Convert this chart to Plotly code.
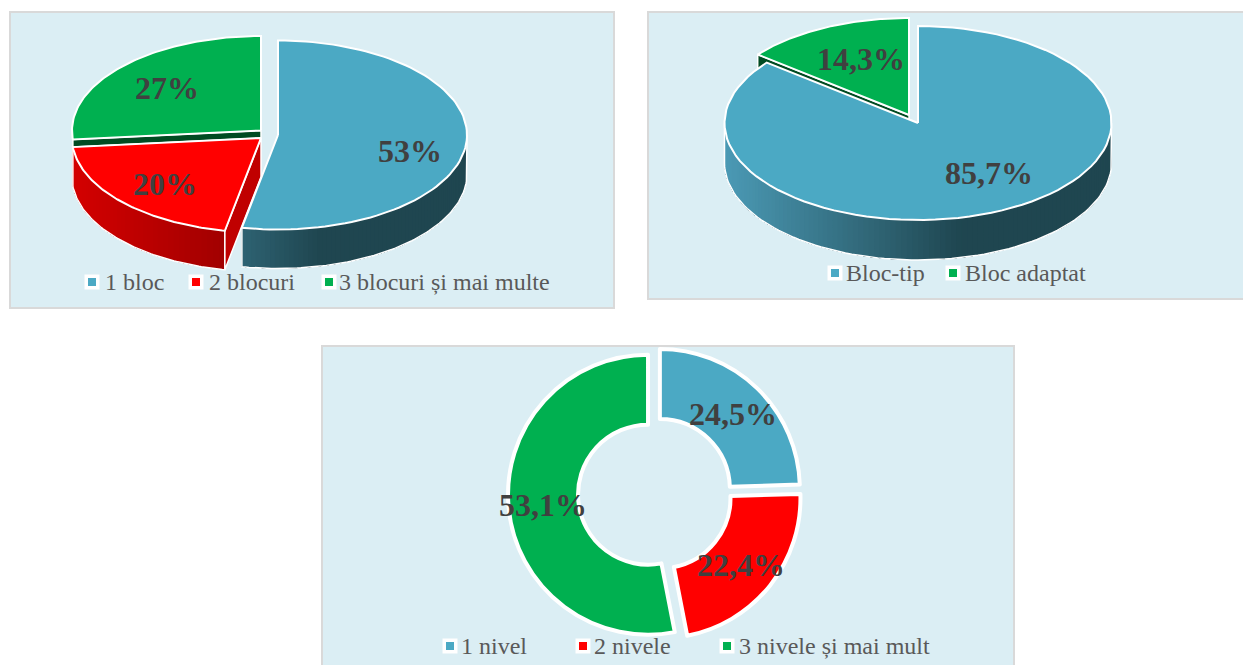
import math
import plotly.graph_objects as go

blocks_categories = ["1 bloc", "2 blocuri", "3 blocuri și mai multe"]
blocks_values = [26, 10, 13]
blocks_labels = ["53%", "20%", "27%"]

type_categories = ["Bloc-tip", "Bloc adaptat"]
type_values = [42, 7]
type_labels = ["85,7%", "14,3%"]

levels_categories = ["1 nivel", "2 nivele", "3 nivele și mai mult"]
levels_values = [12, 11, 26]
levels_labels = ["24,5%", "22,4%", "53,1%"]

# ---- styles ----
BLUE, RED, GREEN = "#4BA9C4", "#FF0000", "#00B050"
DKGREEN = "#004B22"
PANEL, BORDER = "#DBEEF4", "#D9D9D9"
W, H = 1243, 665
SERIF = "Liberation Serif"


def lerp(c1, c2, t):
    t = max(0, min(1, t))
    return "rgb(%d,%d,%d)" % tuple(round(a + (b - a) * t) for a, b in zip(c1, c2))


def blue_shade(x, left, width):
    return lerp((75, 154, 181), (31, 70, 80), (x - left) / (0.61 * width))


def red_shade(x, left, width):
    return lerp((212, 0, 0), (160, 0, 0), (x - left) / width)


def angles(values):
    total = sum(values)
    out, run = [], 0
    for v in values:
        out.append((run / total * 360, (run + v) / total * 360))
        run += v
    return out


def pt(c, rx, ry, a):
    r = math.radians(a)
    return c[0] + rx * math.sin(r), c[1] - ry * math.cos(r)


def arc(c, rx, ry, a0, a1, n=90):
    return [pt(c, rx, ry, a0 + (a1 - a0) * i / n) for i in range(n + 1)]


fig = go.Figure()


def poly(points, fill, line="white", lw=2):
    xs, ys = zip(*points)
    fig.add_trace(go.Scatter(x=list(xs) + [xs[0]], y=list(ys) + [ys[0]], mode="lines",
                             fill="toself", fillcolor=fill,
                             line=dict(color=line, width=lw), hoverinfo="skip",
                             showlegend=False))


def top(c, rx, ry, span, fill):
    poly([c] + arc(c, rx, ry, *span), fill)


def side(c, rx, ry, depth, a0, a1, shade, start, n=70):
    # painter's gradient: every band runs from its start angle to the end of the
    # face, so later bands overlap earlier ones and no seams show
    for i in range(n):
        s = start + (a1 - start) * i / n
        if s >= a1:
            break
        seg = arc(c, rx, ry, s, a1, 40)
        col = shade(pt(c, rx, ry, s + (a1 - start) / n / 2)[0])
        poly(seg + [(x, y + depth) for x, y in reversed(seg)], col, col, 0)
    low = arc(c, rx, ry, a0, a1)
    outline = [low[0]] + [(x, y + depth) for x, y in low] + [low[-1]]
    fig.add_trace(go.Scatter(x=[p[0] for p in outline], y=[p[1] for p in outline], mode="lines",
                             line=dict(color="white", width=1.5), hoverinfo="skip",
                             showlegend=False))


def cut_face(c, radii, a, depth, fill, lw=1.5):
    p = pt(c, radii[0], radii[1], a)
    poly([c, p, (p[0], p[1] + depth), (c[0], c[1] + depth)], fill, "white", lw)


# ---- chart 1: 3D pie, blocks ----
sp1 = angles(blocks_values)
C1B, C1R, C1G = (278, 135), (261, 138), (261, 130.5)
R1, RY1, D1 = 189, 94.5, 39
side(C1B, R1, RY1, D1, 90, sp1[0][1], lambda x: blue_shade(x, C1B[0] - R1, 2 * R1), 90)
side(C1R, R1, RY1, D1, sp1[1][0], sp1[1][1], lambda x: red_shade(x, C1R[0] - R1, 155), sp1[1][0], n=40)
cut_face(C1R, (R1, RY1), sp1[1][0], D1, "#C00000")
cut_face(C1G, (R1, RY1), sp1[2][0], 7.5, DKGREEN)
top(C1G, R1, RY1, sp1[2], GREEN)
top(C1R, R1, RY1, sp1[1], RED)
top(C1B, R1, RY1, sp1[0], BLUE)

# ---- chart 2: 3D pie, type ----
sp2 = angles(type_values)
C2B, C2G = (918, 123), (909, 115)
R2, RY2, D2 = 193.5, 97, 40
side(C2B, R2, RY2, D2, 90, 270, lambda x: blue_shade(x, C2B[0] - R2, 2 * R2), 90, n=110)
cut_face(C2G, (R2, RY2), sp2[1][0], D2, DKGREEN)
top(C2G, R2, RY2, sp2[1], GREEN)
top(C2B, R2, RY2, sp2[0], BLUE)

# ---- chart 3: exploded doughnut (real pie trace) ----
DC, DR, PULL = (655, 494), 140, 0.05
half = DR * (1 + PULL)
fig.add_trace(go.Pie(labels=levels_categories, values=levels_values, hole=0.5, sort=False,
                     direction="clockwise", rotation=0, pull=PULL, textinfo="none",
                     marker=dict(colors=[BLUE, RED, GREEN], line=dict(color="white", width=4)),
                     domain=dict(x=[(DC[0] - half) / W, (DC[0] + half) / W],
                                 y=[1 - (DC[1] + half) / H, 1 - (DC[1] - half) / H]),
                     showlegend=False))

# ---- legends ----
legends = [
    (blocks_categories, [BLUE, RED, GREEN], [(92, 282), (196, 282), (329, 282)], [103, 207, 337]),
    (type_categories, [BLUE, GREEN], [(835, 273), (953, 273)], [844, 963]),
    (levels_categories, [BLUE, RED, GREEN], [(450, 646), (583, 646), (727, 646)], [459, 592, 737]),
]
annotations = []
for cats, cols, pos, tx in legends:
    fig.add_trace(go.Scatter(x=[p[0] for p in pos], y=[p[1] for p in pos], mode="markers",
                             marker=dict(symbol="square", size=15, color="white"),
                             hoverinfo="skip", showlegend=False))
    fig.add_trace(go.Scatter(x=[p[0] for p in pos], y=[p[1] for p in pos], mode="markers",
                             marker=dict(symbol="square", size=8, color=cols, line=dict(width=0)),
                             hoverinfo="skip", showlegend=False))
    for cat, (px, py), t in zip(cats, pos, tx):
        annotations.append(dict(x=t, y=py, text=cat, xanchor="left", yanchor="middle",
                                showarrow=False, xref="x", yref="y",
                                font=dict(family=SERIF, size=24, color="#595959")))

# ---- data labels ----
label_sets = [
    (blocks_labels, [(410, 151), (165, 184), (167, 88)]),
    (type_labels, [(989, 173), (861, 59)]),
    (levels_labels, [(733, 414), (741, 565), (543, 505)]),
]
for texts, where in label_sets:
    for t, (x, y) in zip(texts, where):
        annotations.append(dict(x=x, y=y, text=f"<b>{t}</b>", showarrow=False, xref="x", yref="y",
                                xanchor="center", yanchor="middle",
                                font=dict(family=SERIF, size=32, color="#404040")))

panels = [(10, 12, 614, 308), (648, 12, 1250, 299), (322, 346, 1014, 680)]
shapes = [dict(type="rect", xref="x", yref="y", x0=a, y0=b, x1=c, y1=d, layer="below",
               fillcolor=PANEL, line=dict(color=BORDER, width=2)) for a, b, c, d in panels]

fig.update_layout(width=W, height=H, margin=dict(l=0, r=0, t=0, b=0), autosize=False,
                  paper_bgcolor="white", plot_bgcolor="white", showlegend=False,
                  shapes=shapes, annotations=annotations,
                  xaxis=dict(range=[0, W], visible=False, fixedrange=True),
                  yaxis=dict(range=[H, 0], visible=False, fixedrange=True))

fig.write_html("out.html", config=dict(displayModeBar=False),
               post_script="document.body.style.margin='0';document.body.style.overflow='hidden';")
